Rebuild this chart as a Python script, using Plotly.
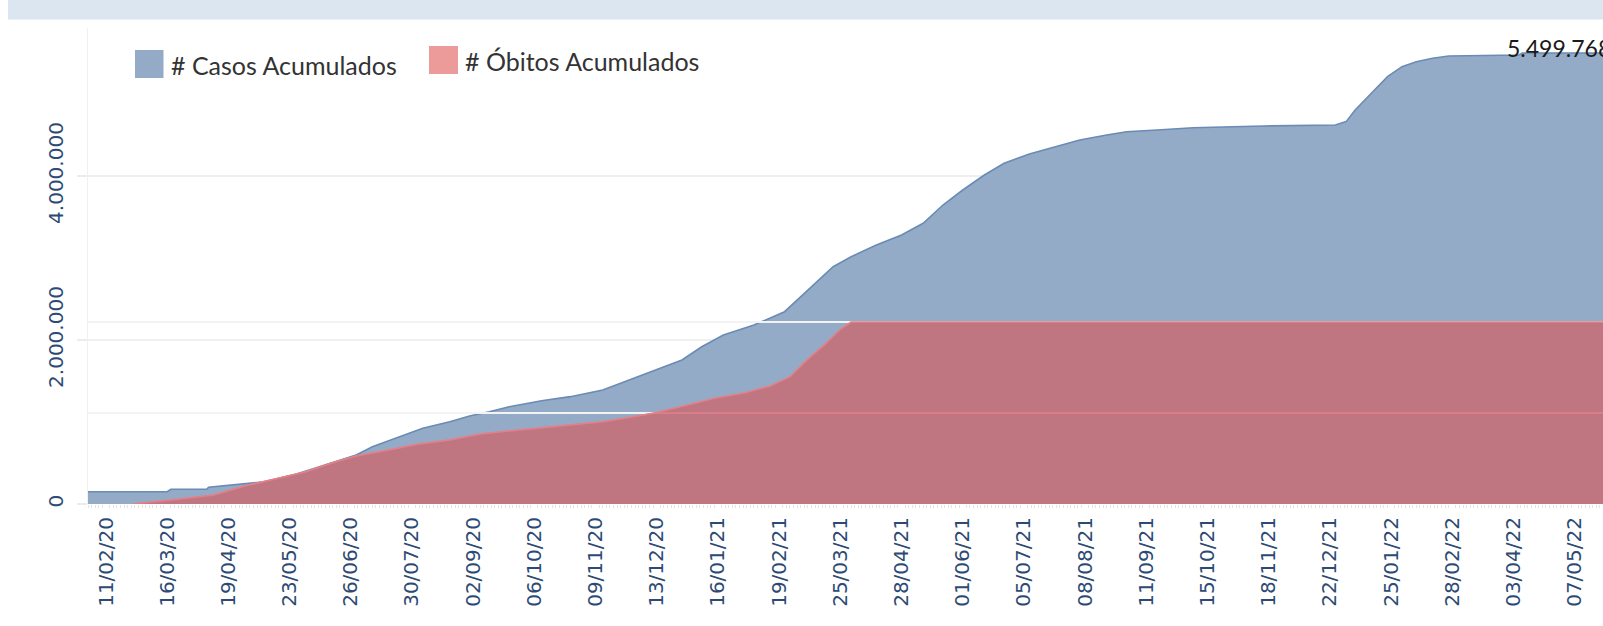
import plotly.graph_objects as go

# ---------------- data ----------------
case_dates = [
    "2020-02-01", "2020-03-16", "2020-03-18", "2020-04-07", "2020-04-08", "2020-04-21",
    "2020-05-01", "2020-05-09", "2020-05-26", "2020-06-15", "2020-06-29", "2020-07-08",
    "2020-07-19", "2020-08-05", "2020-08-20", "2020-08-31", "2020-09-11", "2020-09-22",
    "2020-10-10", "2020-10-26", "2020-11-13", "2020-11-30", "2020-12-15", "2020-12-27",
    "2021-01-07", "2021-01-19", "2021-02-05", "2021-02-22", "2021-03-02", "2021-03-13",
    "2021-03-21", "2021-03-31", "2021-04-14", "2021-04-28", "2021-05-10", "2021-05-21",
    "2021-06-01", "2021-06-13", "2021-06-24", "2021-07-08", "2021-07-22", "2021-08-05",
    "2021-08-20", "2021-08-31", "2021-09-17", "2021-10-07", "2021-11-15", "2021-12-25",
    "2021-12-31", "2022-01-05", "2022-01-14", "2022-01-23", "2022-01-31", "2022-02-08",
    "2022-02-17", "2022-02-26", "2022-04-06", "2022-04-08", "2022-05-23",
]
case_values = [
    150000, 150000, 179000, 179000, 204000, 228000,
    252000, 270000, 360000, 496000, 598000, 699000,
    789000, 923000, 1004000, 1073000, 1126000, 1187000,
    1260000, 1309000, 1390000, 1533000, 1655000, 1756000,
    1918000, 2061000, 2183000, 2345000, 2508000, 2732000,
    2894000, 3016000, 3159000, 3280000, 3423000, 3646000,
    3829000, 4012000, 4155000, 4268000, 4357000, 4439000,
    4500000, 4540000, 4561000, 4589000, 4610000, 4622000,
    4663000, 4805000, 5009000, 5211000, 5333000, 5394000,
    5435000, 5463000, 5475000, 5499768, 5499768,
]

death_dates = [
    "2020-02-26", "2020-03-11", "2020-03-22", "2020-04-11", "2020-04-28", "2020-05-15",
    "2020-06-01", "2020-06-15", "2020-06-29", "2020-07-17", "2020-08-02", "2020-08-20",
    "2020-09-06", "2020-09-22", "2020-10-10", "2020-10-26", "2020-11-13", "2020-11-30",
    "2020-12-11", "2020-12-30", "2021-01-14", "2021-01-31", "2021-02-14", "2021-02-25",
    "2021-03-06", "2021-03-17", "2021-03-25", "2021-03-31", "2022-05-23",
]
death_values = [
    0, 1264, 2637, 4945, 9890, 13736,
    17747, 22363, 26374, 29670, 32802, 35165,
    38462, 40110, 41923, 43407, 45220, 47967,
    49835, 54396, 58077, 61154, 64835, 69945,
    78736, 88297, 95989, 100000, 100000,
]

y_tickvals = [0, 2000000, 4000000]
y_ticktext = ["0", "2.000.000", "4.000.000"]
death_gridvals = [50000, 100000]          # secondary (hidden) axis gridlines
x_range = ["2020-02-01", "2022-05-22 17:00"]
x_tick0 = "2020-02-11"
x_tick_days = 34
series_names = ["# Casos Acumulados", "# Óbitos Acumulados"]
max_label = "5.499.768"
max_label_date = "2022-03-29"
max_label_value = 5499768

# ---------------- styling ----------------
W, H = 1603, 626
L, T, B = 88, 28, 122
PW, PH = W - L, H - T - B
BLUE = "#93abc6"
BLUE_LINE = "#6a8bb5"
RED = "#c07681"
RED_LINE = "#e3808a"
RED_LEGEND = "#ed9a9b"
NAVY = "#2c4a74"
GRID = "#efefef"
TXT_FONT = "Lato"
AX_FONT = "DejaVu Sans"


def px_x(p):
    return (p - L) / PW


def px_y(p):
    return (H - B - p) / PH


fig = go.Figure()

fig.add_trace(go.Scatter(
    x=case_dates, y=case_values, mode="lines", fill="tozeroy",
    fillcolor=BLUE, line=dict(color=BLUE_LINE, width=1.6),
    yaxis="y", showlegend=False, hoverinfo="skip", name=series_names[0],
))

# secondary-axis gridlines, drawn over the blue area and under the red one
for v in death_gridvals:
    fig.add_trace(go.Scatter(
        x=x_range, y=[v, v], mode="lines", line=dict(color="#f3f3f3", width=2),
        yaxis="y2", showlegend=False, hoverinfo="skip",
    ))

fig.add_trace(go.Scatter(
    x=death_dates, y=death_values, mode="lines", fill="tozeroy",
    fillcolor=RED, line=dict(color=RED_LINE, width=1.6),
    yaxis="y2", showlegend=False, hoverinfo="skip", name=series_names[1],
))
death_low = [min(v, death_gridvals[0]) for v in death_values]
fig.add_trace(go.Scatter(
    x=death_dates, y=death_low, mode="lines", fill="tozeroy",
    fillcolor=RED, line=dict(color=RED_LINE, width=1.6),
    yaxis="y2", showlegend=False, hoverinfo="skip",
))

shapes = [
    # dashboard title band
    dict(type="rect", xref="paper", yref="paper", x0=px_x(8), x1=1.0,
         y0=px_y(19.5), y1=px_y(-2), fillcolor="#dce6f1", line=dict(width=0), layer="above"),
    # legend swatches
    dict(type="rect", xref="paper", yref="paper", x0=px_x(135), x1=px_x(163.5),
         y0=px_y(78), y1=px_y(50), fillcolor=BLUE, line=dict(width=0), layer="above"),
    dict(type="rect", xref="paper", yref="paper", x0=px_x(429), x1=px_x(458),
         y0=px_y(74), y1=px_y(46), fillcolor=RED_LEGEND, line=dict(width=0), layer="above"),
]

annotations = [
    dict(xref="paper", yref="paper", x=px_x(169), y=px_y(65), xanchor="left", yanchor="middle",
         text=series_names[0], showarrow=False, font=dict(family=TXT_FONT, size=25, color="#333333")),
    dict(xref="paper", yref="paper", x=px_x(463), y=px_y(61), xanchor="left", yanchor="middle",
         text=series_names[1], showarrow=False, font=dict(family=TXT_FONT, size=25, color="#333333")),
    dict(xref="x", yref="y", x=max_label_date, y=max_label_value, xanchor="left", yanchor="middle",
         yshift=5, text=max_label, showarrow=False,
         font=dict(family=TXT_FONT, size=23, color="#1a1a1a")),
]

fig.update_layout(
    width=W, height=H,
    margin=dict(l=L, r=0, t=T, b=B, pad=0),
    paper_bgcolor="white", plot_bgcolor="white",
    separators=",.",
    shapes=shapes, annotations=annotations,
    xaxis=dict(
        type="date", range=x_range,
        tick0=x_tick0, dtick=x_tick_days * 86400000, tickformat="%d/%m/%y",
        tickangle=-90, ticks="", showgrid=False, zeroline=False, showline=False,
        tickfont=dict(family=AX_FONT, size=20, color=NAVY),
        ticklabelstandoff=8,
        minor=dict(ticks="outside", dtick=2 * 86400000, tick0=x_tick0,
                   ticklen=3, tickwidth=1, tickcolor="#e4e4e4", showgrid=False),
    ),
    yaxis=dict(
        range=[0, PH / 82.0 * 1e6],
        tickvals=y_tickvals, ticktext=y_ticktext, tickangle=-90,
        ticks="outside", ticklen=10, tickwidth=2, tickcolor="#ececec",
        showgrid=True, gridcolor=GRID, gridwidth=2,
        zeroline=False,
        showline=True, linecolor="#f0f0f0", linewidth=1,
        tickfont=dict(family=AX_FONT, size=20, color=NAVY),
        ticklabelstandoff=6,
    ),
    yaxis2=dict(
        overlaying="y", side="right", range=[0, PH / 91.0 * 50000],
        showgrid=False, zeroline=False, showticklabels=False, ticks="", showline=False,
    ),
)

fig.write_html(
    "out.html",
    config={"displayModeBar": False},
    post_script="document.body.style.margin='0';document.body.style.overflow='hidden';",
)
